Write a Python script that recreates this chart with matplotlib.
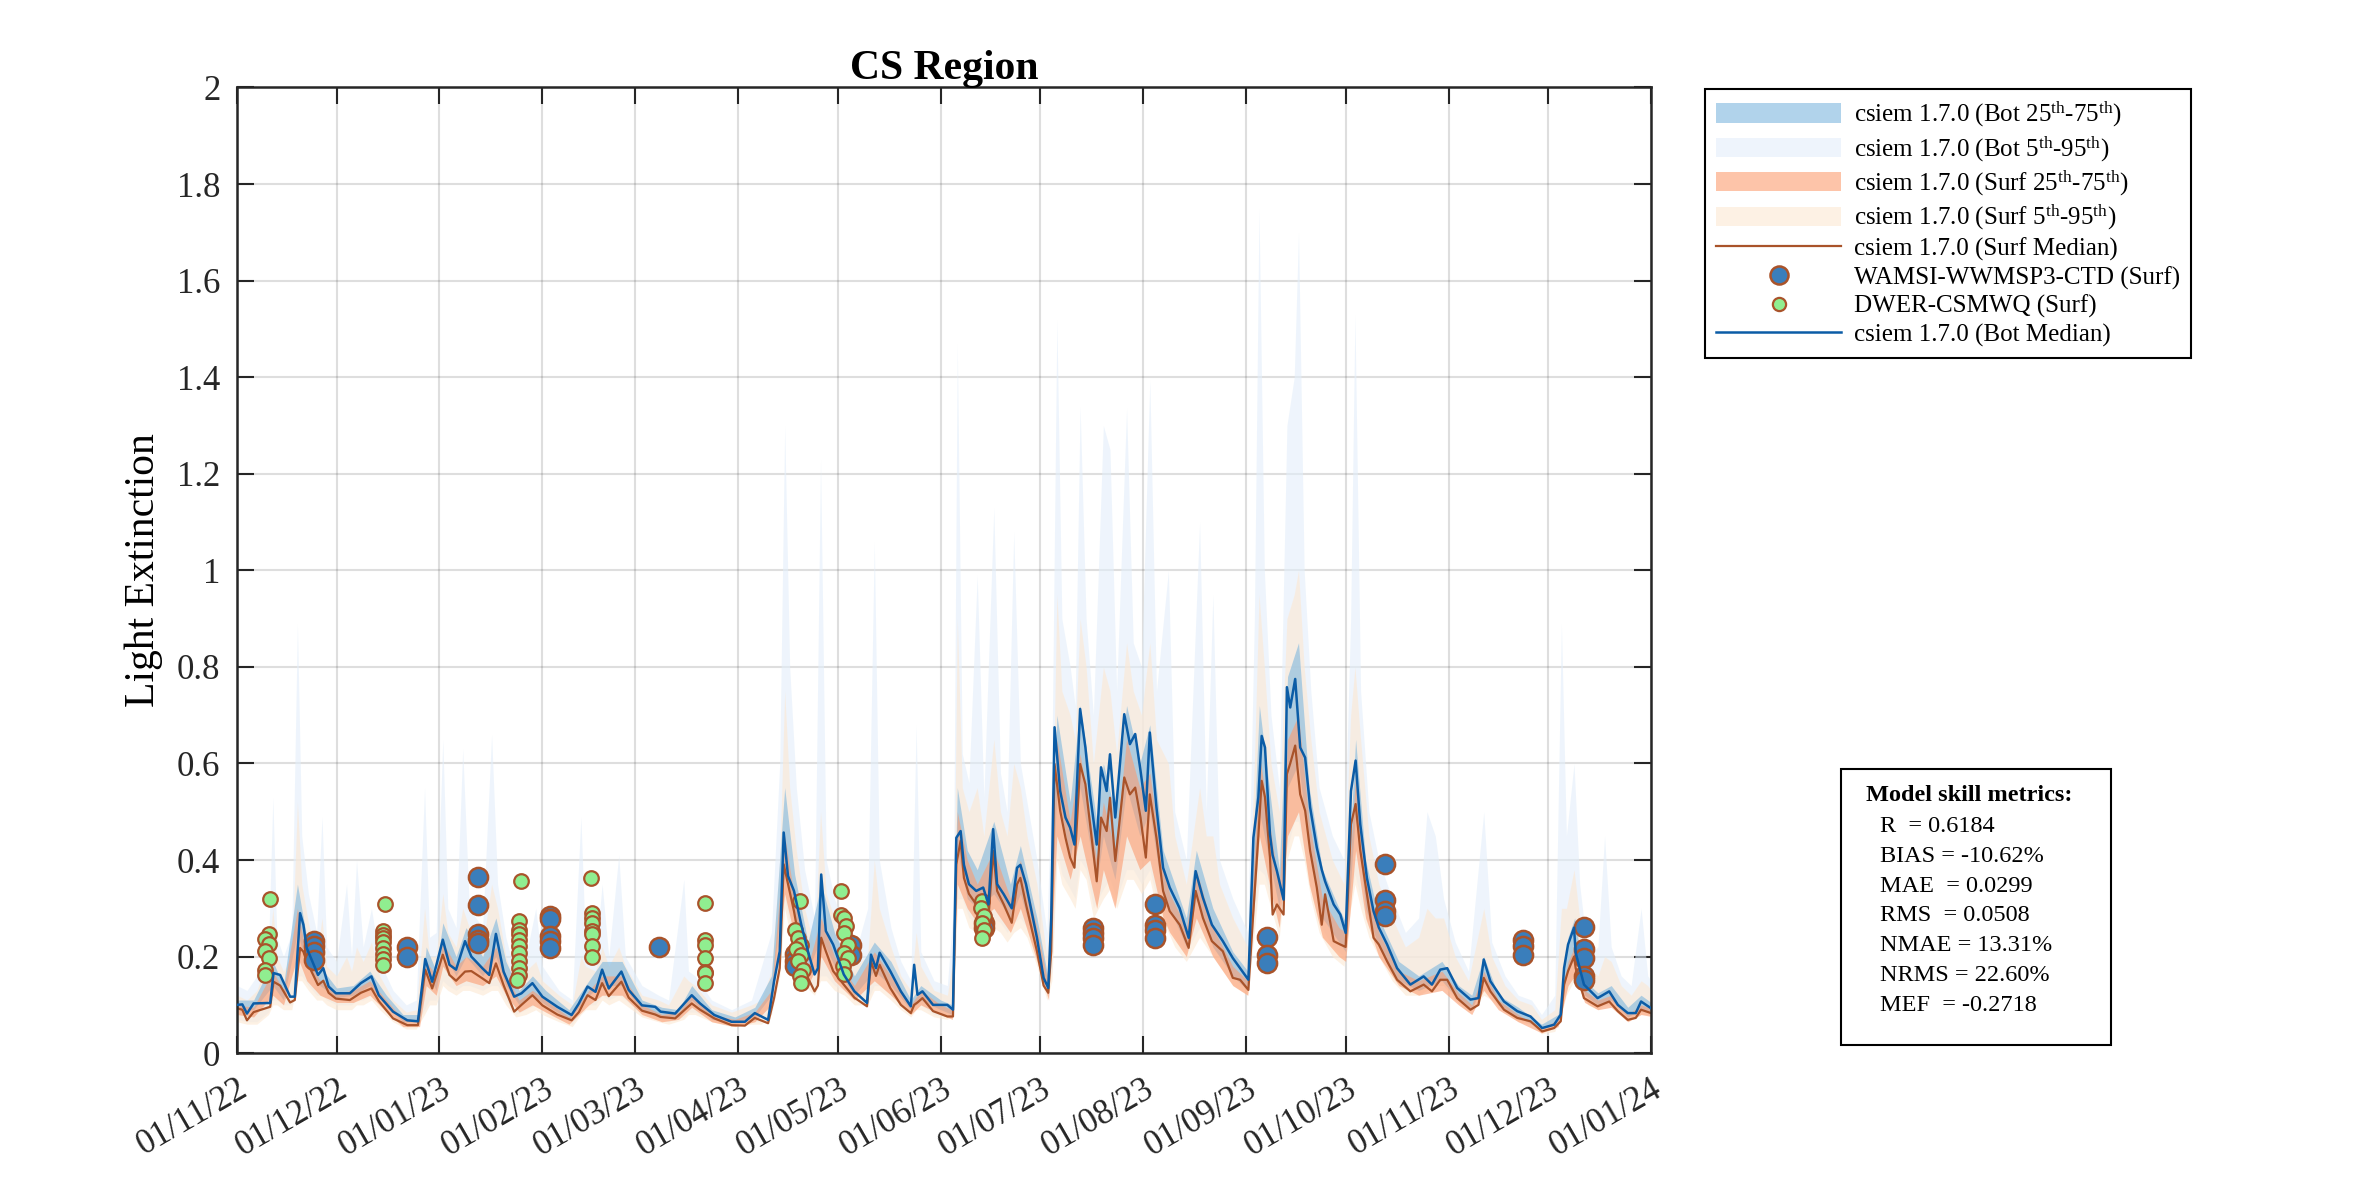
#!/usr/bin/env python3
"""CS Region light extinction: csiem 1.7.0 model bands vs field observations"""
from datetime import datetime

import numpy as np
import matplotlib
matplotlib.use("Agg")
import matplotlib.pyplot as plt
import matplotlib.dates as mdates
from matplotlib.patches import Patch, Rectangle
from matplotlib.lines import Line2D

plt.rcParams["font.family"] = ["Liberation Serif", "DejaVu Serif"]
plt.rcParams["mathtext.fontset"] = "custom"
plt.rcParams["mathtext.rm"] = "Liberation Serif"
plt.rcParams["mathtext.it"] = "Liberation Serif:italic"

START = datetime(2022, 11, 1)

# ---- model medians (days since 01/11/22) ----
med_days = [0, 1.6, 3, 5, 10, 11, 13, 16, 17.4, 19, 20, 21, 24.4, 26, 27.6, 29.8, 34, 37.3, 40.5,
            42.7, 47, 51.3, 54.5, 56.7, 58.8, 62, 64, 66, 68.7, 70.6, 73.9, 76, 78, 80.3, 83.5,
            85.7, 89, 92, 96.5, 100.8, 103, 105.6, 108, 110, 112, 115.8, 118, 122, 126, 127.6,
            132, 137, 139.5, 143.8, 149, 153, 156, 160, 161.8, 163.5, 164.7, 166, 167.8, 170, 172,
            174, 175, 176, 177.4, 179.6, 182.8, 186, 189.8, 191, 192.5, 193.6, 196.8, 200, 203,
            204, 205, 206.5, 209.7, 214, 215.7, 216.7, 218, 219, 220.5, 222.7, 224.8, 226.4,
            227.8, 229, 231, 233.4, 235, 236, 237.7, 241, 243, 244.4, 245.3, 246.3, 248, 249.6,
            251, 252.3, 254, 255.6, 257, 259, 260.3, 262, 263, 264.6, 267.3, 269, 270.6, 272.2,
            273.8, 275, 277, 279, 281, 284, 286.7, 288.8, 291, 293.7, 297, 300, 302.2, 304.7,
            306.2, 307.7, 308.7, 309.7, 311.2, 312, 313.3, 315.3, 316.3, 317.3, 318.8, 320.3,
            321.8, 323.3, 325.3, 326.8, 327.8, 330.4, 332.4, 334, 335.6, 337, 338.4, 340.4,
            342.4, 344, 346.5, 349.5, 353.5, 357.5, 360, 362.5, 364.6, 367.6, 371.6, 374, 375.6,
            377.6, 381.7, 385.7, 389.7, 393.2, 396.8, 398.8, 399.8, 401, 402.8, 403.3, 405.8,
            409.9, 413.4, 416, 419, 421.4, 423, 426, 427]
bot_median = [0.100, 0.101, 0.082, 0.103, 0.104, 0.166, 0.162, 0.117, 0.117, 0.290, 0.266, 0.218,
              0.162, 0.176, 0.138, 0.124, 0.124, 0.145, 0.159, 0.120, 0.086, 0.068, 0.066, 0.195,
              0.148, 0.235, 0.183, 0.173, 0.232, 0.200, 0.176, 0.162, 0.247, 0.169, 0.117, 0.124,
              0.145, 0.117, 0.096, 0.079, 0.103, 0.138, 0.127, 0.173, 0.134, 0.169, 0.131, 0.099,
              0.096, 0.086, 0.082, 0.120, 0.103, 0.079, 0.065, 0.065, 0.083, 0.069, 0.149, 0.211,
              0.457, 0.367, 0.336, 0.266, 0.211, 0.163, 0.176, 0.370, 0.253, 0.225, 0.163, 0.128,
              0.104, 0.204, 0.176, 0.208, 0.170, 0.128, 0.097, 0.183, 0.121, 0.128, 0.100, 0.100,
              0.090, 0.446, 0.460, 0.390, 0.350, 0.336, 0.343, 0.308, 0.464, 0.350, 0.329, 0.300,
              0.384, 0.390, 0.350, 0.239, 0.156, 0.135, 0.280, 0.675, 0.543, 0.488, 0.467, 0.432,
              0.713, 0.633, 0.536, 0.432, 0.592, 0.543, 0.619, 0.488, 0.702, 0.640, 0.661, 0.585,
              0.502, 0.664, 0.509, 0.384, 0.343, 0.300, 0.239, 0.377, 0.322, 0.266, 0.232, 0.197,
              0.176, 0.152, 0.446, 0.530, 0.657, 0.633, 0.453, 0.410, 0.377, 0.318, 0.758, 0.716,
              0.775, 0.633, 0.612, 0.509, 0.426, 0.380, 0.356, 0.308, 0.287, 0.249, 0.543, 0.606,
              0.474, 0.363, 0.294, 0.260, 0.225, 0.176, 0.142, 0.159, 0.142, 0.173, 0.176, 0.135,
              0.111, 0.114, 0.194, 0.149, 0.107, 0.087, 0.076, 0.052, 0.059, 0.080, 0.176, 0.225,
              0.260, 0.208, 0.142, 0.114, 0.128, 0.100, 0.083, 0.083, 0.107, 0.093, 0.090]
surf_median = [0.093, 0.090, 0.068, 0.085, 0.096, 0.148, 0.140, 0.105, 0.110, 0.218, 0.210, 0.190,
               0.141, 0.150, 0.125, 0.113, 0.110, 0.125, 0.134, 0.108, 0.072, 0.058, 0.058, 0.173,
               0.134, 0.204, 0.162, 0.150, 0.169, 0.170, 0.155, 0.145, 0.186, 0.141, 0.086, 0.100,
               0.120, 0.099, 0.080, 0.068, 0.085, 0.120, 0.110, 0.145, 0.118, 0.148, 0.115, 0.088,
               0.080, 0.075, 0.072, 0.103, 0.090, 0.072, 0.058, 0.057, 0.073, 0.062, 0.114, 0.176,
               0.391, 0.350, 0.294, 0.211, 0.156, 0.128, 0.140, 0.239, 0.211, 0.170, 0.142, 0.115,
               0.097, 0.190, 0.160, 0.183, 0.135, 0.100, 0.083, 0.100, 0.105, 0.114, 0.087, 0.076,
               0.076, 0.391, 0.440, 0.363, 0.330, 0.308, 0.294, 0.280, 0.419, 0.336, 0.308, 0.270,
               0.350, 0.363, 0.308, 0.211, 0.140, 0.125, 0.211, 0.599, 0.502, 0.446, 0.405, 0.384,
               0.599, 0.557, 0.474, 0.356, 0.488, 0.460, 0.529, 0.398, 0.571, 0.536, 0.550, 0.488,
               0.405, 0.536, 0.446, 0.336, 0.294, 0.266, 0.218, 0.336, 0.280, 0.232, 0.211, 0.156,
               0.152, 0.131, 0.294, 0.450, 0.564, 0.530, 0.405, 0.287, 0.308, 0.287, 0.578, 0.600,
               0.637, 0.536, 0.502, 0.419, 0.343, 0.266, 0.329, 0.232, 0.225, 0.220, 0.474, 0.516,
               0.420, 0.329, 0.239, 0.225, 0.190, 0.152, 0.128, 0.142, 0.128, 0.152, 0.152, 0.114,
               0.090, 0.100, 0.156, 0.128, 0.090, 0.073, 0.066, 0.045, 0.052, 0.066, 0.142, 0.170,
               0.200, 0.176, 0.114, 0.097, 0.107, 0.087, 0.069, 0.073, 0.090, 0.083, 0.082]

# ---- interquartile bands (25th-75th) ----
iqr_days = [0, 5, 10.8, 14, 18.2, 21, 25, 30, 35, 40, 45, 50, 55, 57, 60, 62, 66, 69, 74, 78, 81,
            85, 89, 93, 100, 106, 110, 116, 122, 128, 133, 137, 143, 150, 156, 161, 165, 168, 172,
            176, 180, 186, 192, 197, 203, 206, 212, 215.5, 217, 220, 223, 228, 233, 236, 241,
            244.5, 247, 251, 254, 259, 261, 264.5, 268, 272, 275, 279, 281, 286, 289, 294, 300,
            304.5, 308, 311, 314, 316.5, 319.8, 323, 327, 332, 334, 337, 340, 344, 350, 356, 363,
            368, 372, 375.6, 380, 386, 393, 398, 401, 403, 406, 410, 414, 419, 423, 427]
surf_p25 = [0.080, 0.075, 0.120, 0.100, 0.200, 0.150, 0.120, 0.105, 0.105, 0.120, 0.085, 0.055,
            0.055, 0.140, 0.120, 0.180, 0.140, 0.150, 0.140, 0.160, 0.120, 0.085, 0.100, 0.085,
            0.060, 0.100, 0.120, 0.120, 0.080, 0.065, 0.070, 0.095, 0.065, 0.055, 0.065, 0.100,
            0.330, 0.240, 0.140, 0.200, 0.150, 0.110, 0.150, 0.120, 0.080, 0.100, 0.080, 0.070,
            0.350, 0.300, 0.270, 0.300, 0.250, 0.300, 0.190, 0.110, 0.450, 0.360, 0.450, 0.300,
            0.380, 0.300, 0.450, 0.380, 0.400, 0.280, 0.250, 0.200, 0.280, 0.200, 0.140, 0.120,
            0.450, 0.350, 0.260, 0.450, 0.500, 0.350, 0.240, 0.200, 0.190, 0.420, 0.280, 0.200,
            0.140, 0.120, 0.130, 0.100, 0.080, 0.130, 0.090, 0.065, 0.042, 0.055, 0.140, 0.160,
            0.105, 0.090, 0.095, 0.065, 0.080, 0.075]
surf_p75 = [0.100, 0.095, 0.170, 0.130, 0.300, 0.200, 0.150, 0.125, 0.130, 0.150, 0.110, 0.070,
            0.070, 0.190, 0.160, 0.230, 0.180, 0.200, 0.180, 0.220, 0.160, 0.110, 0.130, 0.110,
            0.075, 0.130, 0.160, 0.160, 0.100, 0.080, 0.085, 0.120, 0.080, 0.070, 0.085, 0.130,
            0.450, 0.320, 0.180, 0.280, 0.200, 0.140, 0.210, 0.160, 0.100, 0.130, 0.100, 0.090,
            0.500, 0.400, 0.350, 0.420, 0.320, 0.400, 0.260, 0.140, 0.650, 0.480, 0.620, 0.400,
            0.520, 0.420, 0.650, 0.550, 0.580, 0.380, 0.330, 0.260, 0.380, 0.260, 0.180, 0.150,
            0.620, 0.480, 0.340, 0.650, 0.700, 0.480, 0.320, 0.260, 0.250, 0.580, 0.360, 0.250,
            0.170, 0.150, 0.170, 0.125, 0.100, 0.170, 0.110, 0.080, 0.050, 0.070, 0.190, 0.220,
            0.130, 0.110, 0.120, 0.080, 0.100, 0.090]
bot_p25 = [0.090, 0.090, 0.140, 0.110, 0.250, 0.180, 0.140, 0.115, 0.120, 0.140, 0.100, 0.065,
           0.065, 0.170, 0.130, 0.210, 0.160, 0.200, 0.160, 0.200, 0.140, 0.100, 0.120, 0.100,
           0.070, 0.120, 0.140, 0.140, 0.090, 0.075, 0.075, 0.110, 0.070, 0.063, 0.075, 0.120,
           0.380, 0.280, 0.170, 0.240, 0.180, 0.120, 0.170, 0.140, 0.090, 0.110, 0.090, 0.080,
           0.420, 0.320, 0.300, 0.330, 0.280, 0.330, 0.210, 0.120, 0.550, 0.400, 0.550, 0.350,
           0.450, 0.360, 0.550, 0.450, 0.500, 0.320, 0.300, 0.220, 0.320, 0.220, 0.160, 0.130,
           0.500, 0.400, 0.300, 0.550, 0.600, 0.420, 0.280, 0.230, 0.210, 0.500, 0.300, 0.220,
           0.150, 0.130, 0.150, 0.110, 0.090, 0.150, 0.100, 0.075, 0.050, 0.060, 0.180, 0.200,
           0.120, 0.100, 0.110, 0.075, 0.090, 0.085]
bot_p75 = [0.110, 0.110, 0.190, 0.140, 0.350, 0.240, 0.180, 0.135, 0.140, 0.170, 0.120, 0.080,
           0.080, 0.220, 0.170, 0.270, 0.200, 0.260, 0.200, 0.280, 0.190, 0.130, 0.160, 0.130,
           0.090, 0.150, 0.190, 0.190, 0.110, 0.095, 0.090, 0.140, 0.090, 0.075, 0.095, 0.160,
           0.550, 0.370, 0.230, 0.350, 0.250, 0.160, 0.230, 0.190, 0.110, 0.140, 0.110, 0.100,
           0.550, 0.420, 0.380, 0.480, 0.350, 0.430, 0.280, 0.150, 0.700, 0.520, 0.720, 0.480,
           0.600, 0.500, 0.720, 0.600, 0.680, 0.420, 0.380, 0.280, 0.420, 0.300, 0.210, 0.170,
           0.720, 0.550, 0.380, 0.780, 0.850, 0.550, 0.380, 0.300, 0.270, 0.650, 0.400, 0.280,
           0.190, 0.160, 0.190, 0.140, 0.120, 0.200, 0.120, 0.095, 0.060, 0.080, 0.240, 0.280,
           0.150, 0.125, 0.140, 0.095, 0.120, 0.100]

# ---- outer bands (5th-95th), spiky ----
p90_days = [0, 3, 6, 9.5, 10.8, 12, 14, 16.5, 18.2, 19.5, 21.5, 24, 25.6, 27, 30, 33, 34.5, 36,
            38, 40.5, 43, 47, 51, 54, 56.5, 58, 60, 62, 63.5, 66, 68, 70, 74, 76.7, 78.5, 81, 84,
            87, 90, 92, 97, 101, 103.6, 105, 108, 110, 112, 115, 117, 122, 127, 130, 134.6, 136,
            138, 143, 149, 155, 158, 161, 163.5, 165, 166.5, 168.5, 171, 174, 175.8, 177.5, 180,
            183, 186, 190, 192, 193.5, 197, 200, 203, 204.6, 206, 210, 214, 215.8, 217, 218.5,
            220.5, 223, 225, 228, 230, 232, 234, 236, 238, 241, 244, 245.5, 247, 248.5, 251,
            252.5, 254, 255.8, 258, 261, 263, 265, 268, 270, 272.5, 275, 277, 280.6, 282.5, 286,
            290, 292, 294, 296, 300, 304.5, 306.5, 307.9, 309.5, 311.5, 314, 316.3, 318.5, 319.8,
            321.5, 323.5, 326, 330, 333.5, 335.5, 336.8, 338.5, 341, 344, 348, 352, 356, 358.5,
            361, 363.5, 367, 371, 375.6, 378, 382, 386, 390, 393, 397, 399, 400.5, 402.8, 404.5,
            407, 410, 412, 414, 417, 420, 423, 425, 427]
surf_p5 = [0.065, 0.060, 0.060, 0.080, 0.100, 0.100, 0.090, 0.090, 0.150, 0.150, 0.130, 0.110,
           0.110, 0.100, 0.090, 0.090, 0.090, 0.100, 0.100, 0.110, 0.090, 0.065, 0.050, 0.050,
           0.080, 0.100, 0.100, 0.140, 0.130, 0.120, 0.130, 0.130, 0.120, 0.130, 0.130, 0.100,
           0.075, 0.080, 0.090, 0.080, 0.065, 0.055, 0.080, 0.090, 0.090, 0.110, 0.100, 0.110,
           0.100, 0.075, 0.065, 0.060, 0.070, 0.080, 0.080, 0.065, 0.055, 0.060, 0.060, 0.080,
           0.160, 0.300, 0.250, 0.200, 0.140, 0.120, 0.150, 0.150, 0.130, 0.120, 0.100, 0.100,
           0.130, 0.130, 0.110, 0.090, 0.075, 0.090, 0.090, 0.075, 0.070, 0.080, 0.300, 0.300,
           0.260, 0.250, 0.240, 0.260, 0.250, 0.230, 0.250, 0.260, 0.240, 0.180, 0.110, 0.150,
           0.400, 0.350, 0.320, 0.300, 0.380, 0.360, 0.280, 0.320, 0.340, 0.300, 0.360, 0.360,
           0.330, 0.360, 0.300, 0.250, 0.220, 0.190, 0.240, 0.220, 0.200, 0.180, 0.140, 0.120,
           0.250, 0.350, 0.350, 0.300, 0.240, 0.400, 0.450, 0.450, 0.400, 0.320, 0.250, 0.200,
           0.180, 0.300, 0.350, 0.300, 0.240, 0.200, 0.150, 0.120, 0.120, 0.130, 0.140, 0.140,
           0.110, 0.085, 0.120, 0.110, 0.085, 0.065, 0.060, 0.040, 0.045, 0.080, 0.120, 0.150,
           0.130, 0.100, 0.090, 0.100, 0.100, 0.080, 0.070, 0.080, 0.080, 0.075]
surf_p95 = [0.120, 0.110, 0.130, 0.200, 0.300, 0.200, 0.170, 0.200, 0.520, 0.350, 0.270, 0.200,
            0.280, 0.180, 0.160, 0.200, 0.170, 0.220, 0.190, 0.230, 0.160, 0.110, 0.085, 0.090,
            0.300, 0.200, 0.200, 0.330, 0.250, 0.220, 0.300, 0.260, 0.220, 0.350, 0.300, 0.200,
            0.140, 0.170, 0.190, 0.150, 0.120, 0.100, 0.200, 0.180, 0.170, 0.220, 0.180, 0.220,
            0.180, 0.120, 0.110, 0.100, 0.160, 0.150, 0.140, 0.100, 0.085, 0.100, 0.110, 0.170,
            0.400, 0.750, 0.550, 0.420, 0.300, 0.220, 0.500, 0.330, 0.280, 0.220, 0.180, 0.200,
            0.400, 0.300, 0.220, 0.160, 0.130, 0.250, 0.180, 0.130, 0.120, 0.200, 0.900, 0.550,
            0.500, 0.550, 0.450, 0.650, 0.500, 0.450, 0.600, 0.550, 0.450, 0.350, 0.200, 0.400,
            0.950, 0.750, 0.700, 0.650, 0.900, 0.800, 0.600, 0.800, 0.750, 0.620, 0.850, 0.750,
            0.700, 0.850, 0.650, 0.600, 0.450, 0.350, 0.550, 0.450, 0.450, 0.350, 0.280, 0.220,
            0.600, 0.950, 0.800, 0.600, 0.500, 0.900, 0.950, 1.000, 0.800, 0.650, 0.500, 0.400,
            0.350, 0.700, 0.800, 0.650, 0.450, 0.350, 0.280, 0.220, 0.240, 0.300, 0.280, 0.280,
            0.200, 0.150, 0.300, 0.200, 0.140, 0.110, 0.100, 0.070, 0.090, 0.300, 0.300, 0.380,
            0.280, 0.180, 0.160, 0.200, 0.190, 0.140, 0.120, 0.150, 0.140, 0.120]
bot_p5 = [0.070, 0.065, 0.065, 0.085, 0.110, 0.110, 0.100, 0.100, 0.160, 0.160, 0.140, 0.120,
          0.120, 0.110, 0.100, 0.100, 0.100, 0.110, 0.110, 0.120, 0.100, 0.070, 0.055, 0.055,
          0.090, 0.110, 0.110, 0.150, 0.140, 0.130, 0.140, 0.140, 0.130, 0.140, 0.140, 0.110,
          0.080, 0.090, 0.100, 0.090, 0.070, 0.060, 0.085, 0.100, 0.100, 0.120, 0.110, 0.120,
          0.110, 0.080, 0.070, 0.065, 0.075, 0.085, 0.085, 0.070, 0.060, 0.065, 0.065, 0.090,
          0.170, 0.320, 0.270, 0.220, 0.150, 0.130, 0.160, 0.160, 0.140, 0.130, 0.110, 0.110,
          0.140, 0.140, 0.120, 0.100, 0.080, 0.100, 0.100, 0.080, 0.075, 0.085, 0.320, 0.320,
          0.280, 0.270, 0.260, 0.280, 0.270, 0.250, 0.270, 0.280, 0.260, 0.200, 0.120, 0.170,
          0.420, 0.370, 0.340, 0.320, 0.400, 0.380, 0.300, 0.340, 0.360, 0.320, 0.380, 0.380,
          0.350, 0.380, 0.320, 0.270, 0.240, 0.210, 0.260, 0.240, 0.220, 0.200, 0.160, 0.130,
          0.270, 0.380, 0.370, 0.320, 0.260, 0.420, 0.480, 0.480, 0.420, 0.340, 0.270, 0.220,
          0.200, 0.320, 0.370, 0.320, 0.260, 0.220, 0.160, 0.130, 0.130, 0.140, 0.150, 0.150,
          0.120, 0.090, 0.130, 0.120, 0.090, 0.070, 0.065, 0.045, 0.050, 0.090, 0.130, 0.170,
          0.140, 0.110, 0.100, 0.110, 0.110, 0.085, 0.075, 0.085, 0.085, 0.080]
bot_p95 = [0.140, 0.130, 0.160, 0.220, 0.530, 0.240, 0.200, 0.250, 0.890, 0.450, 0.330, 0.250,
           0.490, 0.220, 0.190, 0.350, 0.200, 0.400, 0.220, 0.300, 0.190, 0.130, 0.100, 0.110,
           0.550, 0.240, 0.250, 0.650, 0.300, 0.260, 0.630, 0.300, 0.260, 0.660, 0.350, 0.240,
           0.160, 0.200, 0.300, 0.180, 0.130, 0.110, 0.490, 0.220, 0.200, 0.350, 0.200, 0.410,
           0.200, 0.140, 0.120, 0.110, 0.360, 0.170, 0.160, 0.110, 0.090, 0.110, 0.180, 0.250,
           0.600, 1.300, 0.800, 0.550, 0.380, 0.280, 1.230, 0.400, 0.320, 0.260, 0.200, 0.300,
           1.060, 0.400, 0.260, 0.190, 0.150, 0.680, 0.210, 0.150, 0.140, 0.300, 1.470, 0.620,
           0.560, 0.990, 0.530, 1.130, 0.580, 0.500, 1.080, 0.600, 0.520, 0.400, 0.250, 0.600,
           1.520, 0.900, 0.800, 0.720, 1.340, 0.900, 0.700, 1.300, 1.250, 0.750, 1.336, 0.850,
           0.800, 1.394, 0.750, 1.000, 0.500, 0.400, 1.100, 0.500, 0.950, 0.400, 0.320, 0.250,
           0.900, 1.750, 1.000, 0.700, 0.550, 1.300, 1.400, 1.700, 1.000, 0.750, 0.550, 0.450,
           0.400, 0.900, 1.530, 0.750, 0.500, 0.400, 0.320, 0.250, 0.280, 0.500, 0.450, 0.320,
           0.230, 0.170, 0.500, 0.230, 0.160, 0.120, 0.110, 0.080, 0.120, 0.890, 0.450, 0.600,
           0.350, 0.200, 0.220, 0.450, 0.220, 0.160, 0.140, 0.300, 0.160, 0.140]

# ---- observations ----
wamsi_days = [23.3, 23.3, 23.3, 23.3, 51.3, 51.3, 72.6, 72.6, 72.6, 72.6, 72.6, 94.3, 94.3, 94.3,
              94.3, 94.3, 127, 168, 168, 168, 185, 185, 225, 225, 258, 258, 258, 258, 276.5, 276.5,
              276.5, 276.5, 310.4, 310.4, 310.4, 346, 346, 346, 346, 387.5, 387.5, 387.5, 405.8,
              405.8, 405.8, 405.8, 405.8]
wamsi_vals = [0.233, 0.222, 0.210, 0.193, 0.219, 0.200, 0.365, 0.306, 0.246, 0.235, 0.228, 0.284,
              0.277, 0.242, 0.232, 0.218, 0.219, 0.205, 0.190, 0.180, 0.225, 0.204, 0.270, 0.260,
              0.260, 0.249, 0.239, 0.225, 0.308, 0.266, 0.256, 0.239, 0.240, 0.203, 0.187, 0.391,
              0.318, 0.294, 0.284, 0.235, 0.221, 0.204, 0.261, 0.215, 0.197, 0.159, 0.152]
dwer_days = [9.9, 9.5, 8.3, 9.5, 8.3, 9.5, 8.5, 8.3,
             44.5, 44, 44, 44, 44, 44, 44, 44, 44,
             85.7, 85, 85, 85, 85, 85, 85, 85, 85, 85, 84.5,
             106.5, 107, 107, 107, 107, 107, 107, 107,
             141, 141, 141, 141, 141, 141, 141,
             169.5, 168, 169, 170, 168.5, 170, 169, 170.5, 169.5, 170,
             182, 182, 183, 183.5, 183, 184, 183, 184, 182.5, 183,
             224.5, 224, 225, 224.5, 225, 224.5]
dwer_vals = [0.319, 0.246, 0.237, 0.226, 0.211, 0.197, 0.173, 0.162,
             0.308, 0.253, 0.245, 0.238, 0.230, 0.218, 0.205, 0.195, 0.183,
             0.357, 0.273, 0.256, 0.246, 0.235, 0.221, 0.207, 0.190, 0.176, 0.162, 0.152,
             0.362, 0.291, 0.280, 0.270, 0.253, 0.246, 0.221, 0.200,
             0.310, 0.235, 0.225, 0.197, 0.169, 0.166, 0.145,
             0.315, 0.256, 0.239, 0.225, 0.215, 0.204, 0.190, 0.173, 0.159, 0.145,
             0.336, 0.287, 0.280, 0.263, 0.249, 0.225, 0.208, 0.197, 0.180, 0.163,
             0.315, 0.301, 0.284, 0.270, 0.256, 0.239]

metric_lines = ["R  = 0.6184", "BIAS = -10.62%", "MAE  = 0.0299", "RMS  = 0.0508",
                "NMAE = 13.31%", "NRMS = 22.60%", "MEF  = -0.2718"]

tick_dates = [datetime(2022, 11, 1), datetime(2022, 12, 1)] + \
             [datetime(2023, m, 1) for m in range(1, 13)] + [datetime(2024, 1, 1)]

# colours
C_BOT_IQR = "#7EB7DE"
C_BOT_90 = "#E3EEFA"
C_SURF_IQR = "#FC9D71"
C_SURF_90 = "#FDE8D2"
C_SURF_MED = "#A9532A"
C_BOT_MED = "#0B5CA6"
C_WAMSI = "#3A7EBB"
C_DWER = "#90EE90"
BAND_ALPHA = 0.6


def to_num(days):
    "days since 01/11/22 -> matplotlib date numbers"
    return mdates.date2num(START) + np.asarray(days, dtype=float)


fig = plt.figure(figsize=(23.63, 11.82), dpi=100)
ax = fig.add_axes([0.1003, 0.109, 0.5984, 0.817])

ox = to_num(p90_days)
qx = to_num(iqr_days)
ax.fill_between(ox, bot_p5, bot_p95, color=C_BOT_90, alpha=BAND_ALPHA, lw=0)
ax.fill_between(ox, surf_p5, surf_p95, color=C_SURF_90, alpha=BAND_ALPHA, lw=0)
ax.fill_between(qx, bot_p25, bot_p75, color=C_BOT_IQR, alpha=BAND_ALPHA, lw=0)
ax.fill_between(qx, surf_p25, surf_p75, color=C_SURF_IQR, alpha=BAND_ALPHA, lw=0)

mx = to_num(med_days)
ax.plot(mx, surf_median, color=C_SURF_MED, lw=1.6)
ax.scatter(to_num(wamsi_days), wamsi_vals, s=190, c=C_WAMSI, edgecolors=C_SURF_MED,
           linewidths=1.8, zorder=4)
ax.scatter(to_num(dwer_days), dwer_vals, s=110, c=C_DWER, edgecolors=C_SURF_MED,
           linewidths=1.6, zorder=4)
ax.plot(mx, bot_median, color=C_BOT_MED, lw=1.8, zorder=5)

ax.set_xlim(mdates.date2num(tick_dates[0]), mdates.date2num(tick_dates[-1]))
ax.set_ylim(0, 2)
ax.set_xticks(mdates.date2num(tick_dates))
ax.xaxis.set_major_formatter(mdates.DateFormatter("%d/%m/%y"))
ax.set_yticks(np.arange(0, 2.01, 0.2))
ax.set_yticklabels(["0", "0.2", "0.4", "0.6", "0.8", "1", "1.2", "1.4", "1.6", "1.8", "2"])
plt.setp(ax.get_xticklabels(), rotation=30, ha="right", rotation_mode="anchor")
ax.tick_params(direction="in", top=True, right=True, length=12, width=1.5,
               labelsize=25, colors="#262626", pad=12)
ax.tick_params(axis="x", pad=14)
ax.grid(True, color="#262626", alpha=0.15, lw=1.5)
ax.set_axisbelow(True)
for sp in ax.spines.values():
    sp.set_linewidth(1.8)
    sp.set_color("#262626")

ax.set_title("CS Region", fontsize=30, fontweight="bold", pad=6)
ax.set_ylabel("Light Extinction", fontsize=30, labelpad=10)

handles = [
    Patch(facecolor=C_BOT_IQR, alpha=BAND_ALPHA, lw=0),
    Patch(facecolor=C_BOT_90, alpha=BAND_ALPHA, lw=0),
    Patch(facecolor=C_SURF_IQR, alpha=BAND_ALPHA, lw=0),
    Patch(facecolor=C_SURF_90, alpha=BAND_ALPHA, lw=0),
    Line2D([], [], color=C_SURF_MED, lw=1.6),
    Line2D([], [], ls="none", marker="o", ms=13, mfc=C_WAMSI, mec=C_SURF_MED, mew=1.8),
    Line2D([], [], ls="none", marker="o", ms=9.5, mfc=C_DWER, mec=C_SURF_MED, mew=1.6),
    Line2D([], [], color=C_BOT_MED, lw=1.8),
]
labels = [
    r"csiem 1.7.0 (Bot 25$^{\rm th}$-75$^{\rm th}$)",
    r"csiem 1.7.0 (Bot 5$^{\rm th}$-95$^{\rm th}$)",
    r"csiem 1.7.0 (Surf 25$^{\rm th}$-75$^{\rm th}$)",
    r"csiem 1.7.0 (Surf 5$^{\rm th}$-95$^{\rm th}$)",
    "csiem 1.7.0 (Surf Median)",
    "WAMSI-WWMSP3-CTD (Surf)",
    "DWER-CSMWQ (Surf)",
    "csiem 1.7.0 (Bot Median)",
]
leg = fig.legend(handles, labels, loc="upper left", bbox_to_anchor=(0.7215, 0.925),
                 bbox_transform=fig.transFigure, borderaxespad=0, fontsize=18,
                 frameon=True, fancybox=False, edgecolor="black", framealpha=1,
                 handlelength=5.0, handleheight=0.8, labelspacing=0.2, handletextpad=0.5,
                 borderpad=0.45)
leg.get_frame().set_linewidth(1.5)

# skill metrics box
fig.patches.append(Rectangle((0.779, 0.116), 0.1143, 0.2335, transform=fig.transFigure,
                             facecolor="white", edgecolor="black", lw=1.5))
fig.text(0.7895, 0.327, "Model skill metrics:", fontsize=17.5, fontweight="bold", va="center")
for i, line in enumerate(metric_lines):
    fig.text(0.7955, 0.301 - i * 0.0253, line, fontsize=17.5, va="center")

fig.savefig("out.png", dpi=100)
